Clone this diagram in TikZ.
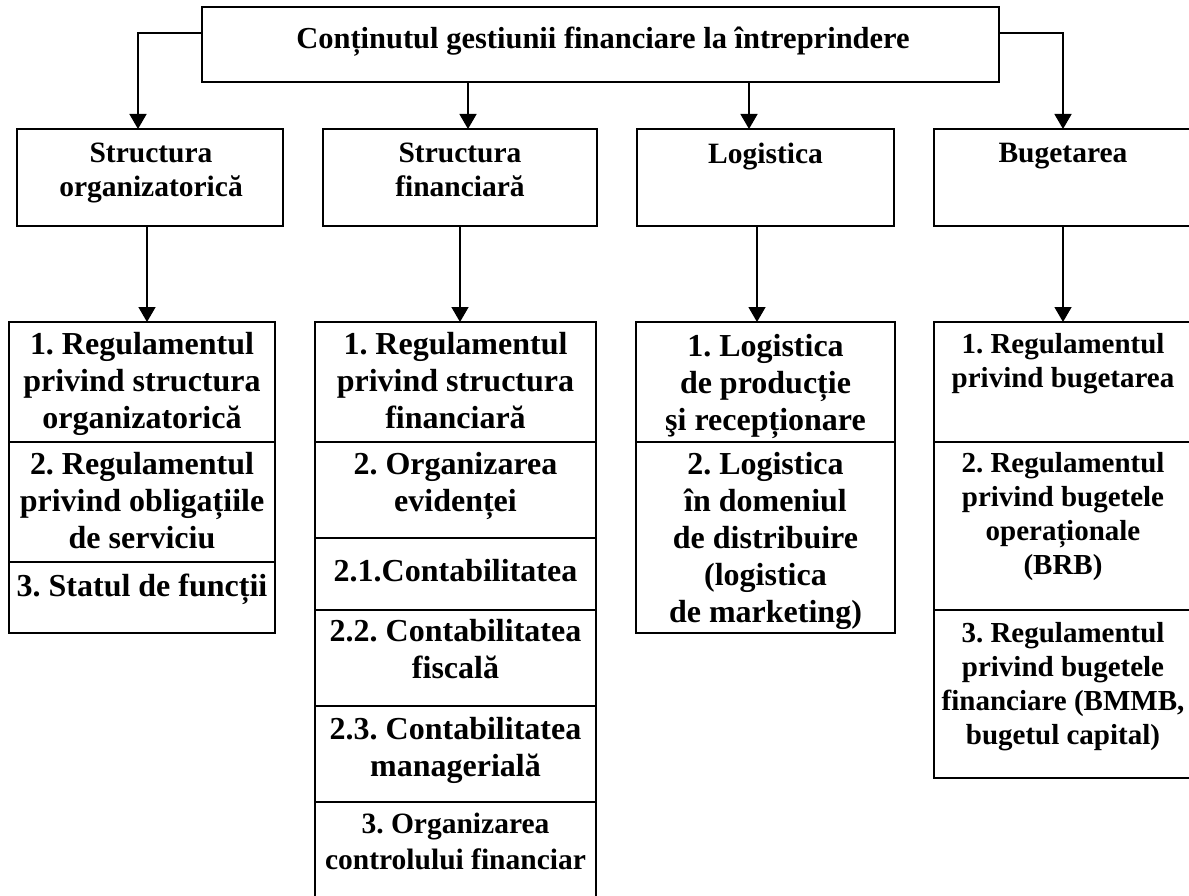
\documentclass[tikz,border=0pt]{standalone}
\usepackage{fontspec}
\setmainfont{Liberation Serif}
\usetikzlibrary{arrows.meta}
\frenchspacing
\tikzset{
  box/.style={draw, line width=1.5pt, inner sep=0pt, outer sep=0pt, rectangle},
  bigtxt/.style={font=\bfseries\fontsize{32}{37}\selectfont, align=center, inner sep=0pt, anchor=north},
  midtxt/.style={font=\bfseries\fontsize{29.5}{34}\selectfont, align=center, inner sep=0pt, anchor=north},
  budtxt/.style={font=\bfseries\fontsize{29}{34}\selectfont, align=center, inner sep=0pt, anchor=north},
  arr/.style={line width=1.5pt, -{Triangle[length=15pt,width=17pt]}},
}
\newcommand\mkbox[5]{\node[box, minimum width={#4-#2}, minimum height={#5-#3}] (#1) at ({(#2+#4)/2},{(#3+#5)/2}) {};}
\begin{document}
\begin{tikzpicture}[x=1pt,y=-1pt]
\useasboundingbox (0,0) rectangle (1189,896);
\clip (0,0) rectangle (1189,896);
% top box
\mkbox{top}{202}{7}{999}{82}
\node[midtxt, font=\bfseries\fontsize{30.5}{35}\selectfont] (toptxt) at (603,27) {Conținutul gestiunii financiare la întreprindere};
% second row
\mkbox{s1}{17}{129}{283}{226}
\mkbox{s2}{323}{129}{597}{226}
\mkbox{s3}{637}{129}{894}{226}
\mkbox{s4}{934}{129}{1192}{226}
\node[midtxt] (s1t) at (151,143) {Structura\\organizatorică};
\node[midtxt] (s2t) at (460,143) {Structura\\financiară};
\node[midtxt] (s3t) at (765.5,143) {Logistica};
\node[midtxt] (s4t) at (1063,143) {Bugetarea};
% column 1
\mkbox{c1a}{9}{322}{275}{442}
\mkbox{c1b}{9}{442}{275}{562}
\mkbox{c1c}{9}{562}{275}{633}
\node[bigtxt] (c1at) at (142,332) {1. Regulamentul\\privind structura\\organizatorică};
\node[bigtxt] (c1bt) at (142,452) {2. Regulamentul\\privind obligațiile\\de serviciu};
\node[bigtxt] (c1ct) at (142,574) {3. Statul de funcții};
% column 2
\mkbox{c2a}{315}{322}{596}{442}
\mkbox{c2b}{315}{442}{596}{538}
\mkbox{c2c}{315}{538}{596}{610}
\mkbox{c2d}{315}{610}{596}{706}
\mkbox{c2e}{315}{706}{596}{802}
\mkbox{c2f}{315}{802}{596}{920}
\node[bigtxt] (c2at) at (455.5,332) {1. Regulamentul\\privind structura\\financiară};
\node[bigtxt] (c2bt) at (455.5,452) {2. Organizarea\\evidenței};
\node[bigtxt] (c2ct) at (455.5,559) {2.1.Contabilitatea};
\node[bigtxt] (c2dt) at (455.5,619) {2.2. Contabilitatea\\fiscală};
\node[bigtxt] (c2et) at (455.5,717) {2.3. Contabilitatea\\managerială};
\node[bigtxt, font=\bfseries\fontsize{29.5}{36}\selectfont] (c2ft) at (455.5,813) {3. Organizarea\\controlului financiar};
% column 3
\mkbox{c3a}{636}{322}{895}{442}
\mkbox{c3b}{636}{442}{895}{633}
\node[bigtxt] (c3at) at (765.5,334) {1. Logistica\\de producție\\şi recepționare};
\node[bigtxt] (c3bt) at (765.5,452) {2. Logistica\\în domeniul\\de distribuire\\(logistica\\de marketing)};
% column 4
\mkbox{c4a}{934}{322}{1192}{442}
\mkbox{c4b}{934}{442}{1192}{610}
\mkbox{c4c}{934}{610}{1192}{778}
\node[budtxt] (c4at) at (1063,333) {1. Regulamentul\\privind bugetarea};
\node[budtxt] (c4bt) at (1063,452) {2. Regulamentul\\privind bugetele\\operaționale\\(BRB)};
\node[budtxt] (c4ct) at (1063,622) {3. Regulamentul\\privind bugetele\\financiare (BMMB,\\bugetul capital)};
% connector x positions
\coordinate (ax1) at (138,0);
\coordinate (ax2) at (468,0);
\coordinate (ax3) at (749,0);
\coordinate (ax4) at (1063,0);
\coordinate (bx1) at (147,0);
\coordinate (bx2) at (460,0);
\coordinate (bx3) at (757,0);
\coordinate (bx4) at (1063,0);
% connectors top -> second row
\draw[arr] ([yshift=11.5pt]top.west) -| (s1.north -| ax1);
\draw[arr] (top.south -| ax2) -- (s2.north -| ax2);
\draw[arr] (top.south -| ax3) -- (s3.north -| ax3);
\draw[arr] ([yshift=11.5pt]top.east) -| (s4.north -| ax4);
% connectors second -> third row
\draw[arr] (s1.south -| bx1) -- (c1a.north -| bx1);
\draw[arr] (s2.south -| bx2) -- (c2a.north -| bx2);
\draw[arr] (s3.south -| bx3) -- (c3a.north -| bx3);
\draw[arr] (s4.south -| bx4) -- (c4a.north -| bx4);
\end{tikzpicture}
\end{document}
